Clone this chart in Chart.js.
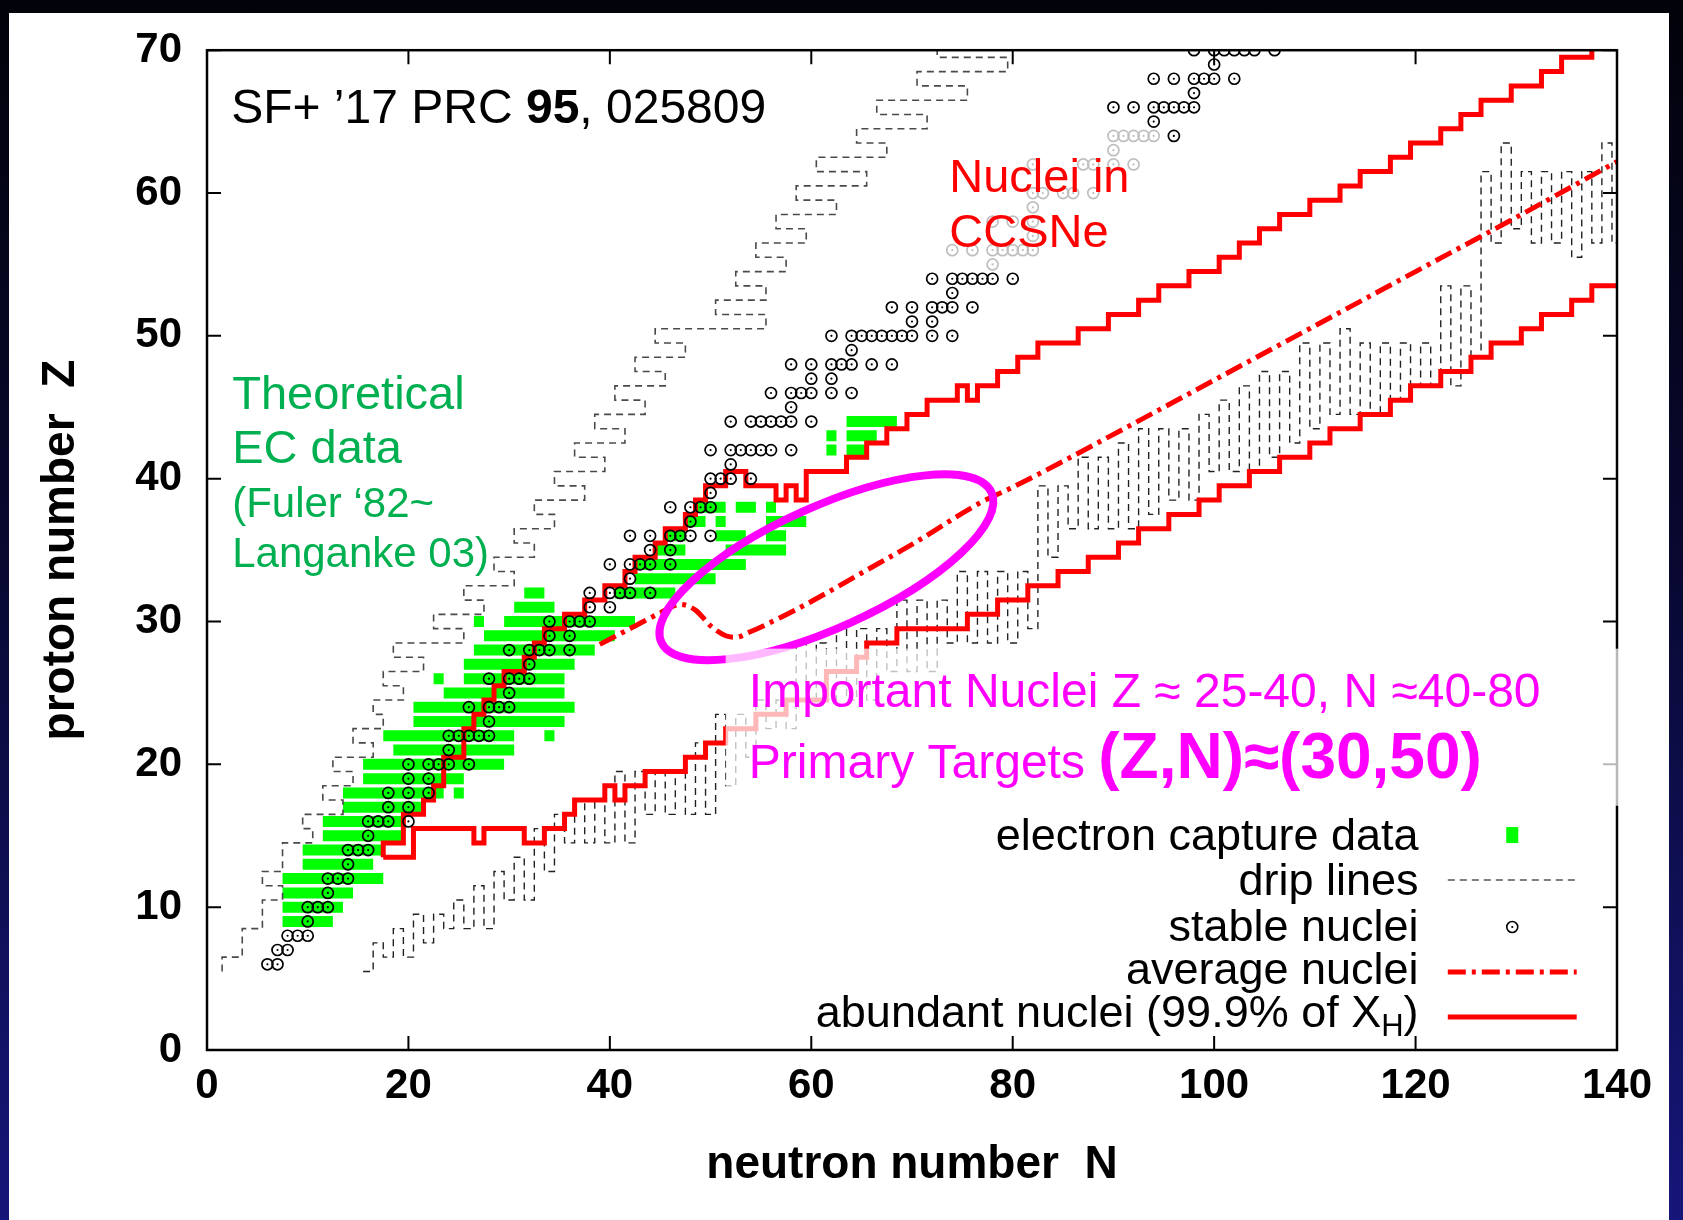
<!DOCTYPE html>
<html lang="en">
<head>
  <meta charset="UTF-8">
  <title>Nuclei in CCSNe</title>
  <script src="https://cdn.jsdelivr.net/npm/chart.js"></script>
  <style>
    html, body { margin: 0; padding: 0; }
    body {
      width: 1683px; height: 1220px; overflow: hidden; position: relative;
      background: linear-gradient(to bottom, #02020a 0%, #080830 45%, #16167a 100%);
    }
    .panel { position: absolute; left: 9px; top: 13px; width: 1660px; height: 1207px; background: #fff; }
    .wrap { position: absolute; left: 0; top: 0; width: 1683px; height: 1220px; }
  </style>
</head>
<body>
  <div class="panel"></div>
  <div class="wrap"><canvas id="chart"></canvas></div>

  <script>
    // axis ticks
    const xTicks = [0, 20, 40, 60, 80, 100, 120, 140];
    const yTicks = [0, 10, 20, 30, 40, 50, 60, 70];

    // electron capture data: rows of Z, cells from ecNmin to ecNmax
    const ecZ    = [9, 10, 11, 12, 13, 14, 15, 16, 17, 18, 18, 19, 20, 21, 22, 22, 23, 24, 25, 26, 26, 27, 28, 29, 30, 30, 31, 32, 32, 33, 34, 35, 35, 36, 36, 36, 37, 37, 37, 38, 38, 38, 42, 42, 43, 43, 44];
    const ecNmin = [8, 8, 8, 8, 10, 10, 12, 12, 14, 14, 25, 16, 16, 19, 18, 34, 21, 21, 24, 23, 26, 26, 27, 28, 27, 30, 31, 32, 41, 43, 43, 45, 52, 46, 51, 56, 48, 51, 56, 49, 53, 56, 62, 64, 62, 64, 64];
    const ecNmax = [12, 13, 14, 17, 16, 17, 19, 19, 21, 23, 25, 25, 29, 30, 30, 34, 35, 36, 35, 23, 35, 36, 38, 40, 27, 42, 34, 33, 46, 50, 53, 47, 57, 47, 53, 57, 49, 51, 59, 51, 54, 56, 62, 65, 62, 66, 68];

    // stable nuclei: neutron numbers for each Z
    const stableZ = [6, 7, 8, 9, 10, 11, 12, 13, 14, 15, 16, 17, 18, 19, 20, 21, 22, 23, 24, 25, 26, 27, 28, 29, 30, 31, 32, 33, 34, 35, 36, 37, 38, 39, 40, 41, 42, 44, 45, 46, 47, 48, 49, 50, 51, 52, 53, 54, 55, 56, 57, 58, 59, 60, 62, 63, 64, 65, 66, 67, 68, 69, 70];
    const stableN = [
      [6, 7], [7, 8], [8, 9, 10], [10], [10, 11, 12], [12], [12, 13, 14], [14], [14, 15, 16], [16],
      [16, 17, 18, 20], [18, 20], [18, 20, 22], [20, 22], [20, 22, 23, 24, 26], [24], [24, 25, 26, 27, 28], [28],
      [26, 28, 29, 30], [30], [28, 30, 31, 32], [32], [30, 32, 33, 34, 36], [34, 36], [34, 36, 37, 38], [38, 40],
      [38, 40, 41, 42, 44], [42], [40, 42, 43, 44, 46], [44, 46], [42, 44, 46, 47, 48, 50], [48], [46, 48, 49, 50],
      [50], [50, 51, 52, 54], [52], [50, 52, 53, 54, 55, 56, 58], [52, 54, 55, 56, 57, 58, 60], [58],
      [56, 58, 59, 60, 62, 64], [60, 62], [58, 60, 62, 63, 64, 66, 68], [64], [62, 64, 65, 66, 67, 68, 69, 70, 72, 74],
      [70, 72], [68, 70, 72, 73, 74, 76], [74], [72, 74, 75, 76, 77, 78, 80], [78], [74, 76, 78, 79, 80, 81, 82],
      [82], [78, 80, 82], [82], [82, 83, 85, 86, 88], [82, 87, 88, 90, 92], [90], [90, 91, 92, 93, 94, 96], [94],
      [90, 92, 94, 95, 96, 97, 98], [98], [94, 96, 98, 99, 100, 102], [100], [98, 100, 101, 102, 103, 104, 106]
    ];

    // proton drip line: cell edge (in N) for each row Z
    const pDripZ = [6, 7, 8, 9, 10, 11, 12, 13, 14, 15, 16, 17, 18, 19, 20, 21, 22, 23, 24, 25, 26, 27, 28, 29, 30, 31, 32, 33, 34, 35,
      36, 37, 38, 39, 40, 41, 42, 43, 44, 45, 46, 47, 48, 49, 50, 51, 52, 53, 54, 55, 56, 57, 58, 59, 60, 61, 62, 63, 64, 65, 66, 67, 68, 69, 70];
    const pDripEdge = [1.5, 3.5, 3.5, 5.5, 5.5, 7.5, 5.5, 7.5, 7.5, 10.5, 9.5, 13.5, 11.5, 14.5, 12.5, 16.5, 14.5, 17.5, 16.5, 19.5,
      17.5, 21.5, 18.5, 25.5, 22.5, 27.5, 25.5, 30.5, 28.5, 32.5, 30.5, 34.5, 32.5, 37.5, 34.5, 39.5, 36.5, 41.5, 38.5, 43.5,
      40.5, 45.5, 42.5, 47.5, 44.5, 55.5, 50.5, 55.5, 52.5, 57.5, 54.5, 59.5, 56.5, 62.5, 58.5, 65.5, 60.5, 67.5, 64.5, 71.5,
      66.5, 75.5, 70.5, 79.5, 72.5];

    // neutron drip line: cell edge (in Z) for each column N
    const nDripN = [16, 17, 18, 19, 20, 21, 22, 23, 24, 25, 26, 27, 28, 29, 30, 31, 32, 33, 34, 35, 36, 37, 38, 39, 40,
      41, 42, 43, 44, 45, 46, 47, 48, 49, 50, 51, 52, 53, 54, 55, 56, 57, 58, 59, 60, 61, 62, 63, 64, 65, 66, 67, 68, 69, 70,
      71, 72, 73, 74, 75, 76, 77, 78, 79, 80, 81, 82, 83, 84, 85, 86, 87, 88, 89, 90, 91, 92, 93, 94, 95, 96, 97, 98, 99, 100,
      101, 102, 103, 104, 105, 106, 107, 108, 109, 110, 111, 112, 113, 114, 115, 116, 117, 118, 119, 120,
      121, 122, 123, 124, 125, 126, 127, 128, 129, 130, 131, 132, 133, 134, 135, 136, 137, 138, 139, 140];
    const nDripEdge = [5.5, 7.5, 6.5, 8.5, 6.5, 9.5, 7.5, 9.5, 8.5, 10.5, 8.5, 11.5, 8.5, 12.5, 10.5, 13.5, 10.5, 15.5, 12.5, 16.5,
      14.5, 17.5, 14.5, 17.5, 14.5, 19.5, 14.5, 19.5, 16.5, 19.5, 16.5, 19.5, 16.5, 21.5, 16.5, 23.5, 18.5, 23.5, 20.5, 24.5,
      22.5, 24.5, 22.5, 28.5, 24.5, 28.5, 24.5, 29.5, 24.5, 29.5, 24.5, 29.5, 26.5, 31.5, 26.5, 31.5, 26.5, 31.5, 28.5, 33.5,
      28.5, 33.5, 28.5, 33.5, 28.5, 33.5, 29.5, 39.5, 34.5, 39.5, 36.5, 41.5, 36.5, 41.5, 36.5, 42.5, 36.5, 43.5, 37.5, 43.5,
      38.5, 43.5, 38.5, 44.5, 40.5, 45.5, 40.5, 46.5, 40.5, 47.5, 41.5, 47.5, 42.5, 49.5, 43.5, 49.5, 44.5, 50.5, 44.5, 49.5,
      44.5, 49.5, 45.5, 49.5, 46.5, 49.5, 46.5, 53.5, 46.5, 53.5, 48.5, 61.5, 56.5, 63.5, 57.5, 61.5, 56.5, 61.5, 56.5, 61.5,
      55.5, 61.5, 56.5, 63.5, 56.5];

    // abundant nuclei (99.9% of X_H): corners of the two staircase boundaries
    const upperN = [17.5, 19.5, 21.5, 22.5, 23.5, 25.5, 26.5, 27.5, 28.5, 29.5, 31.5, 32.5, 33.5, 35.5, 37.5, 39.5, 41.5, 42.5, 44.5, 45.5,
      47.5, 48.5, 49.5, 51.5, 53.5, 56.5, 57.5, 58.5, 59.5, 63.5, 65.5, 67.5, 69.5, 71.5, 74.5, 75.5, 76.5, 78.5, 80.5, 82.5,
      86.5, 89.5, 92.5, 94.5, 97.5, 100.5, 102.5, 104.5, 106.5, 109.5, 112.5, 114.5, 117.5, 119.5, 122.5, 124.5, 126.5, 129.5,
      132.5, 134.5, 137.5, 137.5];
    const upperZ = [13.5, 14.5, 16.5, 17.5, 18.5, 20.5, 22.5, 23.5, 24.5, 25.5, 26.5, 27.5, 28.5, 29.5, 30.5, 31.5, 32.5, 33.5, 34.5, 35.5,
      36.5, 37.5, 38.5, 39.5, 40.5, 39.5, 38.5, 39.5, 38.5, 40.5, 41.5, 42.5, 43.5, 44.5, 45.5, 46.5, 45.5, 46.5, 47.5, 48.5,
      49.5, 50.5, 51.5, 52.5, 53.5, 54.5, 55.5, 56.5, 57.5, 58.5, 59.5, 60.5, 61.5, 62.5, 63.5, 64.5, 65.5, 66.5,
      67.5, 68.5, 69.5, 70.5];
    const lowerN = [17.5, 20.5, 26.5, 27.5, 31.5, 33.5, 35.5, 36.5, 39.5, 40.5, 41.5, 43.5, 47.5, 49.5, 51.5, 54.5, 57.5, 61.5, 64.5, 65.5,
      68.5, 75.5, 78.5, 81.5, 84.5, 87.5, 90.5, 92.5, 95.5, 98.5, 100.5, 103.5, 106.5, 109.5, 111.5, 114.5, 117.5, 119.5,
      122.5, 125.5, 127.5, 130.5, 132.5, 135.5, 137.5, 140.5];
    const lowerZ = [13.5, 13.5, 15.5, 14.5, 15.5, 14.5, 15.5, 16.5, 17.5, 18.5, 17.5, 18.5, 19.5, 20.5, 21.5, 22.5, 23.5, 24.5, 26.5, 27.5,
      28.5, 29.5, 30.5, 31.5, 32.5, 33.5, 34.5, 35.5, 36.5, 37.5, 38.5, 39.5, 40.5, 41.5, 42.5, 43.5, 44.5, 45.5,
      46.5, 47.5, 48.5, 49.5, 50.5, 51.5, 52.5, 53.5];

    // average nuclei
    const avgN = [39, 42, 45, 47, 48.5, 50, 51.5, 52.5, 54, 57, 60, 65, 70, 77, 80, 90, 100, 110, 120, 130, 140];
    const avgZ = [28.4, 29.5, 30.6, 31.2, 30.8, 29.7, 29.0, 28.9, 29.3, 30.3, 31.4, 33.4, 35.4, 38.4, 39.4, 43.1, 46.9, 50.7, 54.5, 58.3, 62.2];

    const FONT = '"Liberation Sans", Arial, Helvetica, sans-serif';

    // build point lists for the library
    const ecPoints = [];
    ecZ.forEach((z, i) => {
      ecPoints.push({ x: ecNmin[i] - 0.5, y: z }, { x: ecNmax[i] + 0.5, y: z }, { x: ecNmax[i] + 0.5, y: null });
    });

    const stablePoints = [];
    stableZ.forEach((z, i) => stableN[i].forEach(n => stablePoints.push({ x: n, y: z })));

    const pDripPoints = pDripZ.map((z, i) => ({ x: pDripEdge[i], y: z - 0.5 }));
    pDripPoints.push({ x: pDripEdge[pDripEdge.length - 1], y: pDripZ[pDripZ.length - 1] + 0.5 });

    const nDripPoints = nDripN.map((n, i) => ({ x: n - 0.5, y: nDripEdge[i] }));
    nDripPoints.push({ x: nDripN[nDripN.length - 1] + 0.5, y: nDripEdge[nDripEdge.length - 1] });

    const upperPoints = upperN.map((n, i) => ({ x: n, y: upperZ[i] }));
    const lowerPoints = lowerN.map((n, i) => ({ x: n, y: lowerZ[i] }));
    const avgPoints = avgN.map((n, i) => ({ x: n, y: avgZ[i] }));

    // annotations, frame, legend
    const overlay = {
      id: 'overlay',
      afterDatasetsDraw(chart) {
        const { ctx, chartArea: a, scales: { x, y } } = chart;
        const px = v => x.getPixelForValue(v);
        const py = v => y.getPixelForValue(v);
        ctx.save();

        // frame with inward ticks on all sides
        ctx.strokeStyle = '#000';
        ctx.lineWidth = 2.5;
        ctx.strokeRect(a.left, a.top, a.right - a.left, a.bottom - a.top);
        ctx.lineWidth = 2;
        ctx.beginPath();
        xTicks.forEach(v => {
          ctx.moveTo(px(v), a.bottom); ctx.lineTo(px(v), a.bottom - 14);
          ctx.moveTo(px(v), a.top); ctx.lineTo(px(v), a.top + 14);
        });
        yTicks.forEach(v => {
          ctx.moveTo(a.left, py(v)); ctx.lineTo(a.left + 14, py(v));
          ctx.moveTo(a.right, py(v)); ctx.lineTo(a.right - 14, py(v));
        });
        ctx.stroke();

        // magenta ellipse around the important region
        const unit = px(1) - px(0);
        ctx.beginPath();
        ctx.ellipse(px(61.5), py(33.8), 18 * unit, 6 * unit, -24.4 * Math.PI / 180, 0, 2 * Math.PI);
        ctx.lineWidth = 8;
        ctx.strokeStyle = '#ff00ff';
        ctx.stroke();

        // semi-transparent text backgrounds
        ctx.fillStyle = 'rgba(255,255,255,0.75)';
        ctx.fillRect(px(72.8), py(64.5), px(94.9) - px(72.8), py(54.5) - py(64.5));
        ctx.fillStyle = 'rgba(255,255,255,0.72)';
        ctx.fillRect(px(51.5), py(28.1), px(140.8) - px(51.5), py(17.1) - py(28.1));

        ctx.textBaseline = 'alphabetic';
        ctx.textAlign = 'left';

        // reference
        let tx = px(2.4);
        ctx.fillStyle = '#000';
        ctx.font = '48px ' + FONT;
        ctx.fillText('SF+ \u201917 PRC ', tx, py(64.9));
        tx += ctx.measureText('SF+ \u201917 PRC ').width;
        ctx.font = 'bold 48px ' + FONT;
        ctx.fillText('95', tx, py(64.9));
        tx += ctx.measureText('95').width;
        ctx.font = '48px ' + FONT;
        ctx.fillText(', 025809', tx, py(64.9));

        // green label
        ctx.fillStyle = '#00b050';
        ctx.font = '47px ' + FONT;
        ctx.fillText('Theoretical', px(2.5), py(44.87));
        ctx.fillText('EC data', px(2.5), py(41.1));
        ctx.font = '42px ' + FONT;
        ctx.fillText('(Fuler \u201882~', px(2.5), py(37.33));
        ctx.fillText('Langanke 03)', px(2.5), py(33.83));

        // red label
        ctx.fillStyle = '#ff0000';
        ctx.font = '47px ' + FONT;
        ctx.fillText('Nuclei in', px(73.7), py(60.06));
        ctx.fillText('CCSNe', px(73.7), py(56.2));

        // magenta labels
        ctx.fillStyle = '#ff00ff';
        ctx.font = '48px ' + FONT;
        ctx.fillText('Important Nuclei Z \u2248 25-40, N \u224840-80', px(53.8), py(24.0));
        ctx.fillText('Primary Targets ', px(53.8), py(19.05));
        const pw = ctx.measureText('Primary Targets ').width;
        ctx.font = 'bold 64px ' + FONT;
        ctx.fillText('(Z,N)\u2248(30,50)', px(53.8) + pw, py(19.05));

        // key
        const kx = px(120.3), sc = px(129.6), s0 = px(123.2), s1 = px(136.0);
        ctx.fillStyle = '#000';
        ctx.textAlign = 'right';
        ctx.font = '45px ' + FONT;
        ctx.fillText('electron capture data', kx, py(14.0));
        ctx.fillText('drip lines', kx, py(10.85));
        ctx.fillText('stable nuclei', kx, py(7.63));
        ctx.fillText('average nuclei', kx, py(4.62));
        const tail = ')';
        ctx.fillText(tail, kx, py(1.61));
        let kw = ctx.measureText(tail).width;
        ctx.font = '31px ' + FONT;
        ctx.fillText('H', kx - kw, py(1.61) + 9);
        kw += ctx.measureText('H').width;
        ctx.font = '45px ' + FONT;
        ctx.fillText('abundant nuclei (99.9% of X', kx - kw, py(1.61));

        ctx.fillStyle = '#00ff00';
        ctx.fillRect(sc - 6, py(15.05) - 8, 12, 16);

        ctx.lineCap = 'butt';
        ctx.strokeStyle = '#555';
        ctx.lineWidth = 1.6;
        ctx.setLineDash([7, 5]);
        ctx.beginPath(); ctx.moveTo(s0, py(11.9)); ctx.lineTo(s1, py(11.9)); ctx.stroke();

        ctx.setLineDash([]);
        ctx.strokeStyle = '#000';
        ctx.lineWidth = 1.6;
        ctx.beginPath(); ctx.arc(sc, py(8.61), 5.5, 0, 2 * Math.PI); ctx.stroke();
        ctx.fillStyle = '#000';
        ctx.beginPath(); ctx.arc(sc, py(8.61), 1.1, 0, 2 * Math.PI); ctx.fill();

        ctx.strokeStyle = '#ff0000';
        ctx.lineWidth = 5;
        ctx.setLineDash([18, 6, 4, 6]);
        ctx.beginPath(); ctx.moveTo(s0, py(5.46)); ctx.lineTo(s1, py(5.46)); ctx.stroke();
        ctx.setLineDash([]);
        ctx.beginPath(); ctx.moveTo(s0, py(2.31)); ctx.lineTo(s1, py(2.31)); ctx.stroke();

        ctx.restore();
      }
    };

    new Chart(document.getElementById('chart'), {
      type: 'scatter',
      data: {
        datasets: [
          {
            label: 'stable nuclei',
            data: stablePoints,
            pointStyle: 'circle',
            pointRadius: 5.5,
            borderWidth: 1.7,
            borderColor: '#000',
            backgroundColor: 'rgba(0,0,0,0)',
            order: 0
          },
          {
            label: 'stable nuclei centre',
            data: stablePoints,
            pointRadius: 1.1,
            borderWidth: 0,
            backgroundColor: '#000',
            order: 0
          },
          {
            type: 'line',
            label: 'abundant nuclei (upper)',
            data: upperPoints,
            stepped: 'after',
            borderColor: '#ff0000',
            borderWidth: 5,
            pointRadius: 0,
            order: 1
          },
          {
            type: 'line',
            label: 'abundant nuclei (lower)',
            data: lowerPoints,
            stepped: 'after',
            borderColor: '#ff0000',
            borderWidth: 5,
            pointRadius: 0,
            order: 1
          },
          {
            type: 'line',
            label: 'average nuclei',
            data: avgPoints,
            cubicInterpolationMode: 'monotone',
            borderColor: '#ff0000',
            borderWidth: 5,
            borderDash: [18, 6, 4, 6],
            pointRadius: 0,
            order: 2
          },
          {
            type: 'line',
            label: 'proton drip line',
            data: pDripPoints,
            stepped: 'after',
            borderColor: '#4a4a4a',
            borderWidth: 1.6,
            borderDash: [7, 5],
            pointRadius: 0,
            order: 3
          },
          {
            type: 'line',
            label: 'neutron drip line',
            data: nDripPoints,
            stepped: 'before',
            borderColor: '#222',
            borderWidth: 1.4,
            borderDash: [7, 5],
            pointRadius: 0,
            order: 3
          },
          {
            type: 'line',
            label: 'electron capture data',
            data: ecPoints,
            borderColor: '#00ff00',
            borderWidth: 11,
            borderCapStyle: 'butt',
            spanGaps: false,
            pointRadius: 0,
            order: 4
          }
        ]
      },
      options: {
        responsive: true,
        maintainAspectRatio: false,
        devicePixelRatio: 1,
        animation: false,
        events: [],
        layout: { padding: { top: 50, right: 66, bottom: 0, left: 0 } },
        plugins: {
          legend: { display: false },
          tooltip: { enabled: false }
        },
        scales: {
          x: {
            type: 'linear',
            min: 0,
            max: 140,
            afterFit: s => { s.height = 170; },
            grid: { display: false, drawTicks: false },
            border: { display: false },
            ticks: {
              stepSize: 20,
              padding: 11,
              color: '#000',
              font: { family: FONT, size: 42, weight: 'bold' }
            },
            title: {
              display: true,
              text: 'neutron number  N',
              color: '#000',
              padding: { bottom: 27 },
              font: { family: FONT, size: 46, weight: 'bold' }
            }
          },
          y: {
            type: 'linear',
            min: 0,
            max: 70,
            afterFit: s => { s.width = 207; },
            grid: { display: false, drawTicks: false },
            border: { display: false },
            ticks: {
              stepSize: 10,
              padding: 25,
              color: '#000',
              font: { family: FONT, size: 42, weight: 'bold' }
            },
            title: {
              display: true,
              text: 'proton number  Z',
              color: '#000',
              align: 'center',
              padding: { top: 34 },
              font: { family: FONT, size: 46, weight: 'bold' }
            }
          }
        }
      },
      plugins: [overlay]
    });
  </script>
</body>
</html>
